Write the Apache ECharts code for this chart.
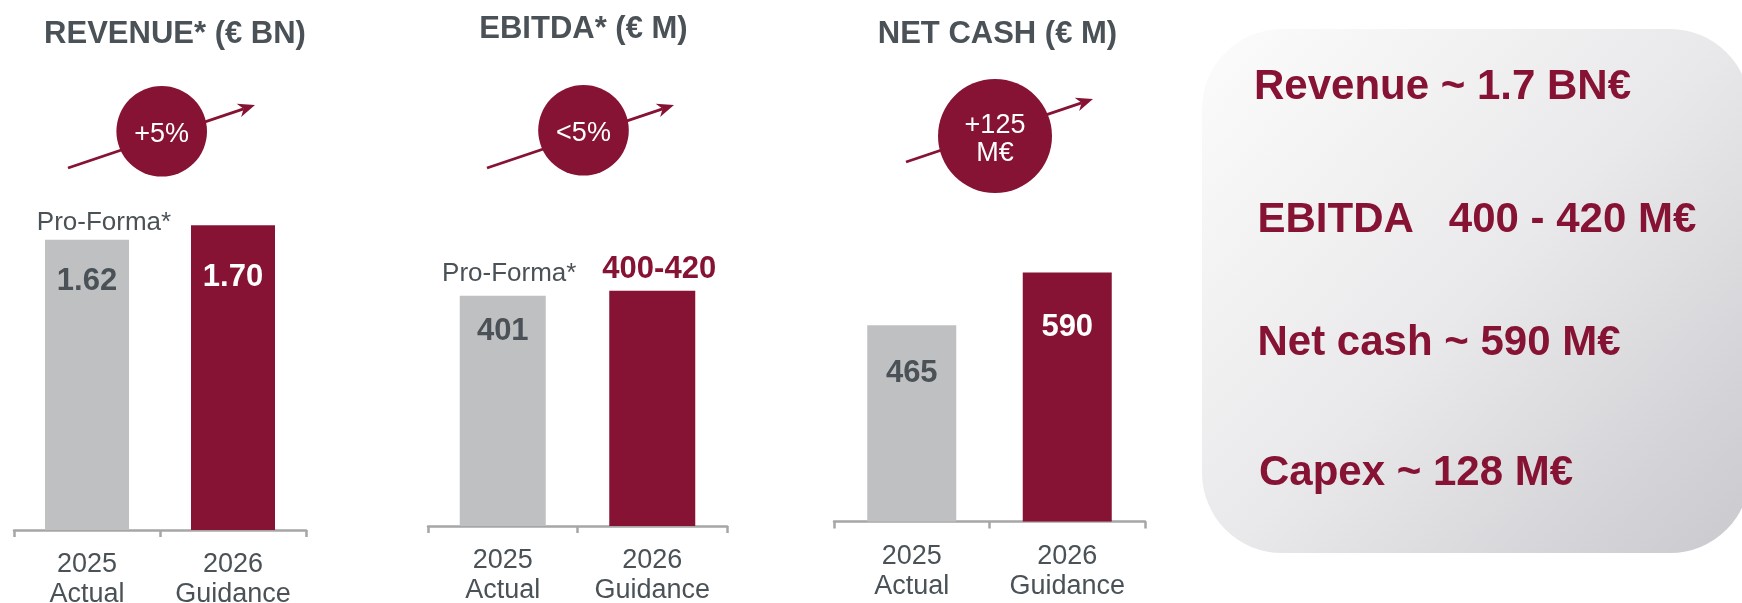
<!DOCTYPE html>
<html>
<head>
<meta charset="utf-8">
<script src="https://cdn.jsdelivr.net/npm/echarts@6/dist/echarts.min.js"></script>
<style>
  html, body { margin: 0; padding: 0; background: #ffffff; }
  #chart { width: 1742px; height: 603px; }
</style>
</head>
<body>
<div id="chart"></div>
<script>
// ---- data ----
const categories = ['2025\nActual', '2026\nGuidance'];
const panelTitles = ['REVENUE* (€ BN)', 'EBITDA* (€ M)', 'NET CASH (€ M)'];
const revenue = [1.62, 1.70];          // € BN
const ebitda = [401, 410];             // € M (2026 bar at the middle of the guidance range)
const ebitdaGuidanceRange = [400, 420];
const netCash = [465, 590];            // € M
const growthBadges = ['+5%', '<5%', '+125\nM€'];
const proFormaNote = 'Pro-Forma*';
const guidanceSummary = ['Revenue ~ 1.7 BN€', 'EBITDA   400 - 420 M€', 'Net cash ~ 590 M€', 'Capex ~ 128 M€'];

// ---- styling ----
const FONT = "'Liberation Sans', Arial, Helvetica, sans-serif";
const RED = '#861334';
const GREY_BAR = '#bfc0c2';
const INK = '#4a5257';
const AXIS_GREY = '#a6a6a6';

// one small bar chart per KPI
const panels = [
  {
    values: revenue, yMax: 2, grid: { left: 14, width: 292, top: 171.6, height: 358.4 }, barWidth: 84,
    labels: [revenue[0].toFixed(2), revenue[1].toFixed(2)],
    labelStyles: [
      { position: 'insideTop', distance: 26.5, color: INK },
      { position: 'insideTop', distance: 37.5, color: '#ffffff' }
    ],
    proForma: { distance: 4, offset: [17, 0] },
    title: { x: 175, y: 34 },
    badge: { cx: 161.7, cy: 131.3, r: 45.3 },
    arrow: [68, 168, 255, 105]
  },
  {
    values: ebitda, yMax: 600, grid: { left: 428, width: 299, top: 181.6, height: 344.4 }, barWidth: 86,
    labels: [String(ebitda[0]), ebitdaGuidanceRange.join('-')],
    labelStyles: [
      { position: 'insideTop', distance: 20.5, color: INK },
      { position: 'top', distance: 6, offset: [7, 0], color: RED }
    ],
    proForma: { distance: 9, offset: [6.5, 0] },
    title: { x: 583.5, y: 29 },
    badge: { cx: 583.5, cy: 130.3, r: 45.3 },
    arrow: [487, 168, 674, 105]
  },
  {
    values: netCash, yMax: 800, grid: { left: 834, width: 311, top: 183.9, height: 337.6 }, barWidth: 89,
    labels: [String(netCash[0]), String(netCash[1])],
    labelStyles: [
      { position: 'insideTop', distance: 33, color: INK },
      { position: 'insideTop', distance: 39.5, color: '#ffffff' }
    ],
    proForma: null,
    title: { x: 997.5, y: 34 },
    badge: { cx: 995, cy: 136, r: 57 },
    arrow: [906, 162, 1093, 99]
  }
];

const barColors = [GREY_BAR, RED];

const grids = [], xAxes = [], yAxes = [], series = [], graphics = [];

panels.forEach((p, i) => {
  // fixed plot rectangles; category labels may run past the bottom edge
  grids.push(Object.assign({ containLabel: false, outerBoundsMode: 'none' }, p.grid));
  xAxes.push({
    type: 'category', gridIndex: i, data: categories,
    axisLine: { lineStyle: { color: AXIS_GREY, width: 2.5 } },
    axisTick: { show: true, length: 7, lineStyle: { color: AXIS_GREY, width: 2.5 } },
    axisLabel: { color: INK, fontSize: 27, lineHeight: 30, margin: 20, fontFamily: FONT, interval: 0 }
  });
  yAxes.push({ type: 'value', gridIndex: i, min: 0, max: p.yMax, show: false, splitLine: { show: false } });

  series.push({
    type: 'bar', xAxisIndex: i, yAxisIndex: i, barWidth: p.barWidth, silent: true,
    data: p.values.map((v, j) => ({
      value: v,
      itemStyle: { color: barColors[j] },
      label: Object.assign({
        show: true, formatter: p.labels[j],
        fontSize: 31, fontWeight: 'bold', lineHeight: 30, fontFamily: FONT
      }, p.labelStyles[j])
    }))
  });

  if (p.proForma) {
    // note sitting above the pro-forma 2025 bar
    series.push({
      type: 'scatter', xAxisIndex: i, yAxisIndex: i, symbolSize: 0, silent: true,
      itemStyle: { opacity: 1 },
      data: [[categories[0], p.values[0]]],
      label: {
        show: true, position: 'top', formatter: proFormaNote,
        distance: p.proForma.distance, offset: p.proForma.offset,
        color: INK, fontSize: 26, lineHeight: 26, fontFamily: FONT
      }
    });
  }

  // panel heading
  graphics.push({
    type: 'text',
    style: {
      text: panelTitles[i], x: p.title.x, y: p.title.y,
      textAlign: 'center', textVerticalAlign: 'middle',
      fill: INK, font: 'bold 31px ' + FONT
    }
  });

  // rising arrow behind the growth badge
  const [x1, y1, x2, y2] = p.arrow;
  const L = Math.hypot(x2 - x1, y2 - y1);
  const ux = (x2 - x1) / L, uy = (y2 - y1) / L, nx = -uy, ny = ux;
  const headLen = 17, headHalf = 7, notch = 12;
  graphics.push({
    type: 'line',
    shape: { x1: x1, y1: y1, x2: x2 - ux * notch, y2: y2 - uy * notch },
    style: { stroke: RED, lineWidth: 2.8 }
  });
  graphics.push({
    type: 'polygon',
    shape: {
      points: [
        [x2, y2],
        [x2 - ux * headLen + nx * headHalf, y2 - uy * headLen + ny * headHalf],
        [x2 - ux * notch, y2 - uy * notch],
        [x2 - ux * headLen - nx * headHalf, y2 - uy * headLen - ny * headHalf]
      ]
    },
    style: { fill: RED }
  });

  // growth badge
  graphics.push({
    type: 'circle',
    shape: { cx: p.badge.cx, cy: p.badge.cy, r: p.badge.r },
    style: { fill: RED }
  });
  graphics.push({
    type: 'text',
    style: {
      text: growthBadges[i], x: p.badge.cx, y: p.badge.cy + 3.5,
      textAlign: 'center', textVerticalAlign: 'middle',
      fill: '#ffffff', font: '27px ' + FONT, lineHeight: 28
    }
  });
});

// guidance summary card
graphics.push({
  type: 'rect',
  shape: { x: 1202, y: 29, width: 548, height: 524, r: 80 },
  style: {
    fill: new echarts.graphic.LinearGradient(0, 0, 1, 1, [
      { offset: 0, color: '#fcfcfc' },
      { offset: 0.5, color: '#e9e9eb' },
      { offset: 1, color: '#c9c9ce' }
    ])
  }
});
const summaryRows = [
  { x: 1254, y: 87 },
  { x: 1257.5, y: 220.5 },
  { x: 1257.5, y: 343 },
  { x: 1259, y: 473 }
];
guidanceSummary.forEach((t, k) => {
  graphics.push({
    type: 'text',
    style: {
      text: t, x: summaryRows[k].x, y: summaryRows[k].y,
      textAlign: 'left', textVerticalAlign: 'middle',
      fill: RED, font: 'bold 42px ' + FONT
    }
  });
});

const chart = echarts.init(document.getElementById('chart'), null, { renderer: 'canvas' });
chart.setOption({
  animation: false,
  backgroundColor: '#ffffff',
  grid: grids,
  xAxis: xAxes,
  yAxis: yAxes,
  series: series,
  graphic: { elements: graphics }
});
</script>
</body>
</html>
